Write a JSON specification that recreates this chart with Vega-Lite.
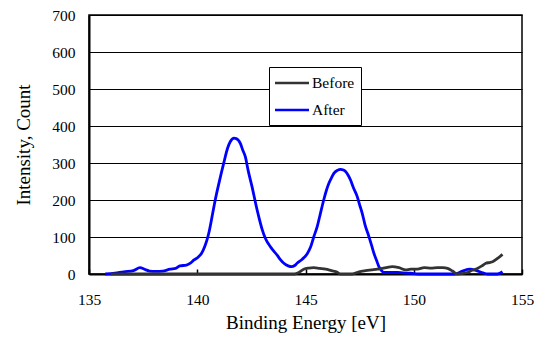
{
  "$schema": "https://vega.github.io/schema/vega-lite/v6.json",
  "width": 433,
  "height": 259,
  "autosize": "none",
  "padding": {"left": 89, "top": 15, "right": 23, "bottom": 71},
  "background": "white",
  "config": {
    "font": "Liberation Serif",
    "view": {"stroke": "black", "strokeWidth": 1.5}
  },
  "data": {
    "values": [
      {"x": 135.75, "y": 0, "series": "After"},
      {"x": 136.2, "y": 2, "series": "After"},
      {"x": 136.6, "y": 6, "series": "After"},
      {"x": 137.05, "y": 9, "series": "After"},
      {"x": 137.35, "y": 17, "series": "After"},
      {"x": 137.6, "y": 12, "series": "After"},
      {"x": 137.8, "y": 8, "series": "After"},
      {"x": 138.1, "y": 7, "series": "After"},
      {"x": 138.4, "y": 8, "series": "After"},
      {"x": 138.75, "y": 13, "series": "After"},
      {"x": 139.0, "y": 15, "series": "After"},
      {"x": 139.2, "y": 22, "series": "After"},
      {"x": 139.5, "y": 24, "series": "After"},
      {"x": 139.7, "y": 30, "series": "After"},
      {"x": 139.85, "y": 38, "series": "After"},
      {"x": 140.05, "y": 46, "series": "After"},
      {"x": 140.2, "y": 56, "series": "After"},
      {"x": 140.35, "y": 75, "series": "After"},
      {"x": 140.45, "y": 92, "series": "After"},
      {"x": 140.55, "y": 115, "series": "After"},
      {"x": 140.7, "y": 160, "series": "After"},
      {"x": 140.83, "y": 200, "series": "After"},
      {"x": 141.0, "y": 245, "series": "After"},
      {"x": 141.22, "y": 299, "series": "After"},
      {"x": 141.4, "y": 340, "series": "After"},
      {"x": 141.53, "y": 358, "series": "After"},
      {"x": 141.7, "y": 367, "series": "After"},
      {"x": 141.8, "y": 366, "series": "After"},
      {"x": 141.99, "y": 353, "series": "After"},
      {"x": 142.1, "y": 335, "series": "After"},
      {"x": 142.22, "y": 317, "series": "After"},
      {"x": 142.35, "y": 280, "series": "After"},
      {"x": 142.53, "y": 236, "series": "After"},
      {"x": 142.7, "y": 190, "series": "After"},
      {"x": 142.84, "y": 155, "series": "After"},
      {"x": 143.0, "y": 120, "series": "After"},
      {"x": 143.15, "y": 96, "series": "After"},
      {"x": 143.4, "y": 72, "series": "After"},
      {"x": 143.69, "y": 51, "series": "After"},
      {"x": 143.85, "y": 38, "series": "After"},
      {"x": 144.0, "y": 29, "series": "After"},
      {"x": 144.2, "y": 22, "series": "After"},
      {"x": 144.35, "y": 20, "series": "After"},
      {"x": 144.5, "y": 23, "series": "After"},
      {"x": 144.61, "y": 29, "series": "After"},
      {"x": 144.85, "y": 40, "series": "After"},
      {"x": 145.08, "y": 55, "series": "After"},
      {"x": 145.23, "y": 72, "series": "After"},
      {"x": 145.38, "y": 100, "series": "After"},
      {"x": 145.54, "y": 128, "series": "After"},
      {"x": 145.69, "y": 164, "series": "After"},
      {"x": 145.85, "y": 202, "series": "After"},
      {"x": 145.96, "y": 225, "series": "After"},
      {"x": 146.08, "y": 245, "series": "After"},
      {"x": 146.2, "y": 260, "series": "After"},
      {"x": 146.31, "y": 272, "series": "After"},
      {"x": 146.47, "y": 280, "series": "After"},
      {"x": 146.62, "y": 283, "series": "After"},
      {"x": 146.75, "y": 281, "series": "After"},
      {"x": 146.85, "y": 277, "series": "After"},
      {"x": 146.97, "y": 267, "series": "After"},
      {"x": 147.08, "y": 254, "series": "After"},
      {"x": 147.2, "y": 235, "series": "After"},
      {"x": 147.39, "y": 209, "series": "After"},
      {"x": 147.5, "y": 187, "series": "After"},
      {"x": 147.62, "y": 164, "series": "After"},
      {"x": 147.75, "y": 133, "series": "After"},
      {"x": 147.93, "y": 101, "series": "After"},
      {"x": 148.05, "y": 78, "series": "After"},
      {"x": 148.16, "y": 56, "series": "After"},
      {"x": 148.28, "y": 37, "series": "After"},
      {"x": 148.39, "y": 20, "series": "After"},
      {"x": 148.5, "y": 10, "series": "After"},
      {"x": 148.62, "y": 4, "series": "After"},
      {"x": 148.9, "y": 4, "series": "After"},
      {"x": 149.24, "y": 4, "series": "After"},
      {"x": 149.5, "y": 3, "series": "After"},
      {"x": 149.86, "y": 2, "series": "After"},
      {"x": 150.2, "y": 0, "series": "After"},
      {"x": 151.9, "y": 0, "series": "After"},
      {"x": 152.25, "y": 8, "series": "After"},
      {"x": 152.6, "y": 13, "series": "After"},
      {"x": 152.9, "y": 9, "series": "After"},
      {"x": 153.2, "y": 3, "series": "After"},
      {"x": 153.4, "y": 0, "series": "After"},
      {"x": 153.87, "y": 0, "series": "After"},
      {"x": 154.1, "y": 6, "series": "After"},
      {"x": 136.0, "y": 0, "series": "Before"},
      {"x": 144.5, "y": 0, "series": "Before"},
      {"x": 144.69, "y": 4, "series": "Before"},
      {"x": 144.92, "y": 13, "series": "Before"},
      {"x": 145.15, "y": 16, "series": "Before"},
      {"x": 145.38, "y": 17, "series": "Before"},
      {"x": 145.65, "y": 15, "series": "Before"},
      {"x": 145.93, "y": 13, "series": "Before"},
      {"x": 146.2, "y": 9, "series": "Before"},
      {"x": 146.47, "y": 5, "series": "Before"},
      {"x": 146.6, "y": 0, "series": "Before"},
      {"x": 147.16, "y": 0, "series": "Before"},
      {"x": 147.47, "y": 6, "series": "Before"},
      {"x": 147.78, "y": 9, "series": "Before"},
      {"x": 148.05, "y": 11, "series": "Before"},
      {"x": 148.32, "y": 13, "series": "Before"},
      {"x": 148.55, "y": 15, "series": "Before"},
      {"x": 148.78, "y": 18, "series": "Before"},
      {"x": 149.0, "y": 20, "series": "Before"},
      {"x": 149.32, "y": 17, "series": "Before"},
      {"x": 149.63, "y": 11, "series": "Before"},
      {"x": 149.86, "y": 13, "series": "Before"},
      {"x": 150.17, "y": 13, "series": "Before"},
      {"x": 150.48, "y": 17, "series": "Before"},
      {"x": 150.8, "y": 16, "series": "Before"},
      {"x": 151.09, "y": 17, "series": "Before"},
      {"x": 151.35, "y": 17, "series": "Before"},
      {"x": 151.56, "y": 15, "series": "Before"},
      {"x": 151.79, "y": 8, "series": "Before"},
      {"x": 152.0, "y": 0, "series": "Before"},
      {"x": 152.2, "y": 1, "series": "Before"},
      {"x": 152.48, "y": 4, "series": "Before"},
      {"x": 152.7, "y": 10, "series": "Before"},
      {"x": 152.94, "y": 15, "series": "Before"},
      {"x": 153.15, "y": 22, "series": "Before"},
      {"x": 153.33, "y": 29, "series": "Before"},
      {"x": 153.5, "y": 31, "series": "Before"},
      {"x": 153.64, "y": 33, "series": "Before"},
      {"x": 153.87, "y": 42, "series": "Before"},
      {"x": 154.1, "y": 53, "series": "Before"}
    ]
  },
  "mark": {"type": "line", "strokeWidth": 2.8, "interpolate": "monotone"},
  "encoding": {
    "x": {
      "field": "x",
      "type": "quantitative",
      "scale": {"domain": [135, 155], "nice": false, "zero": false},
      "axis": {
        "values": [135, 140, 145, 150, 155],
        "title": "Binding Energy [eV]",
        "grid": false,
        "labelFlush": false,
        "domainColor": "black",
        "domainWidth": 2,
        "tickColor": "black",
        "tickSize": -5,
        "tickWidth": 1.5,
        "labelFont": "Liberation Serif",
        "labelFontSize": 15.5,
        "labelColor": "black",
        "labelPadding": 23,
        "titleFont": "Liberation Serif",
        "titleFontSize": 19,
        "titleFontWeight": "normal",
        "titleColor": "black",
        "titlePadding": 6
      }
    },
    "y": {
      "field": "y",
      "type": "quantitative",
      "scale": {"domain": [0, 700], "nice": false},
      "axis": {
        "values": [0, 100, 200, 300, 400, 500, 600, 700],
        "title": "Intensity, Count",
        "grid": true,
        "gridColor": "black",
        "gridWidth": 1,
        "gridOpacity": 1,
        "domainColor": "black",
        "domainWidth": 2,
        "ticks": false,
        "labelFont": "Liberation Serif",
        "labelFontSize": 15.5,
        "labelColor": "black",
        "labelPadding": 14,
        "titleFont": "Liberation Serif",
        "titleFontSize": 19,
        "titleFontWeight": "normal",
        "titleColor": "black",
        "titlePadding": 18
      }
    },
    "color": {
      "field": "series",
      "type": "nominal",
      "scale": {"domain": ["Before", "After"], "range": ["#333333", "#0000ff"]},
      "legend": {
        "title": null,
        "orient": "none",
        "legendX": 180,
        "legendY": 52,
        "fillColor": "white",
        "strokeColor": "black",
        "padding": 6,
        "symbolType": "M-2,0L2,0",
        "symbolSize": 289,
        "symbolOffset": 7,
        "symbolStrokeWidth": 2.5,
        "labelFont": "Liberation Serif",
        "labelFontSize": 15.5,
        "labelColor": "black",
        "labelOffset": 10,
        "rowPadding": 8,
        "cornerRadius": 0
      }
    }
  }
}
